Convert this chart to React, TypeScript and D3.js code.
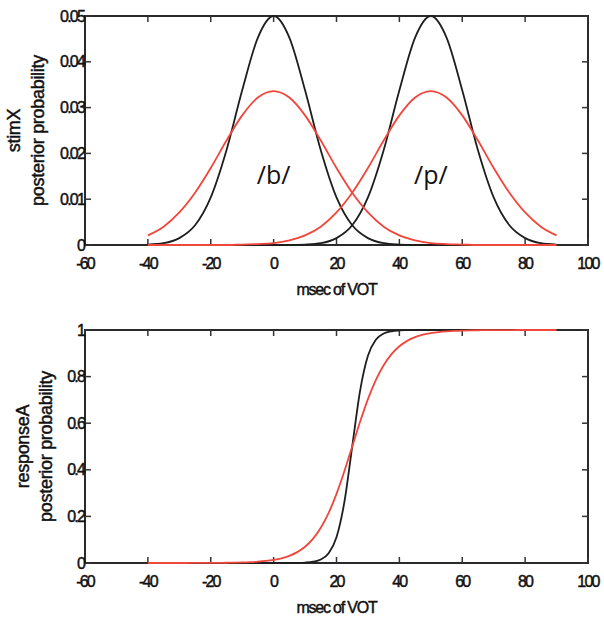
import React from "react";
import * as d3 from "d3";

// ---- data ----
const xTicks = [-60, -40, -20, 0, 20, 40, 60, 80, 100];
const topYTicks = [0, 0.01, 0.02, 0.03, 0.04, 0.05];
const topYLabels = ["0", "0.01", "0.02", "0.03", "0.04", "0.05"];
const botYTicks = [0, 0.2, 0.4, 0.6, 0.8, 1];
const botYLabels = ["0", "0.2", "0.4", "0.6", "0.8", "1"];

// top panel: msec of VOT, step 5
const vot5 = [-40, -35, -30, -25, -20, -15, -10, -5, 0, 5, 10, 15, 20, 25, 30, 35, 40, 45, 50, 55, 60, 65, 70, 75, 80, 85, 90];
const blackB = [0.0001, 0.0004, 0.0015, 0.0043, 0.0104, 0.0207, 0.0338, 0.0453, 0.05, 0.0453, 0.0338, 0.0207, 0.0104, 0.0043, 0.0015, 0.0004, 0.0001, 0, 0, 0, 0, 0, 0, 0, 0, 0, 0];
const blackP = [0, 0, 0, 0, 0, 0, 0, 0, 0, 0, 0.0001, 0.0004, 0.0015, 0.0043, 0.0104, 0.0207, 0.0338, 0.0453, 0.05, 0.0453, 0.0338, 0.0207, 0.0104, 0.0043, 0.0015, 0.0004, 0.0001];
const redB = [0.0021, 0.004, 0.0071, 0.0114, 0.0168, 0.0228, 0.0283, 0.0322, 0.0336, 0.0322, 0.0283, 0.0228, 0.0168, 0.0114, 0.0071, 0.004, 0.0021, 0.001, 0.0004, 0.0002, 0.0001, 0, 0, 0, 0, 0, 0];
const redP = [0, 0, 0, 0, 0, 0, 0.0001, 0.0002, 0.0004, 0.001, 0.0021, 0.004, 0.0071, 0.0114, 0.0168, 0.0228, 0.0283, 0.0322, 0.0336, 0.0322, 0.0283, 0.0228, 0.0168, 0.0114, 0.0071, 0.004, 0.0021];

// bottom panel: msec of VOT, step 2.5
const vot25 = [-40, -37.5, -35, -32.5, -30, -27.5, -25, -22.5, -20, -17.5, -15, -12.5, -10, -7.5, -5, -2.5, 0, 2.5, 5, 7.5, 10, 12.5, 15, 17.5, 20, 22.5, 25, 27.5, 30, 32.5, 35, 37.5, 40, 42.5, 45, 47.5, 50, 52.5, 55, 57.5, 60, 62.5, 65, 67.5, 70, 72.5, 75, 77.5, 80, 82.5, 85, 87.5, 90];
const blackResp = [0, 0, 0, 0, 0, 0, 0, 0, 0, 0, 0, 0, 0, 0, 0, 0, 0, 0, 0.0002, 0.0007, 0.0019, 0.0054, 0.0153, 0.042, 0.1107, 0.2609, 0.5, 0.7391, 0.8893, 0.958, 0.9847, 0.9946, 0.9981, 0.9993, 1, 1, 1, 1, 1, 1, 1, 1, 1, 1, 1, 1, 1, 1, 1, 1, 1, 1, 1];
const redResp = [0, 0, 0, 0.0001, 0.0001, 0.0001, 0.0002, 0.0003, 0.0004, 0.0007, 0.001, 0.0016, 0.0024, 0.0037, 0.0057, 0.0087, 0.0133, 0.0202, 0.0308, 0.0467, 0.07, 0.1038, 0.1513, 0.2153, 0.2969, 0.3939, 0.5, 0.6061, 0.7031, 0.7847, 0.8487, 0.8962, 0.93, 0.9533, 0.9692, 0.9798, 0.9867, 0.9913, 0.9943, 0.9963, 0.9976, 0.9984, 0.999, 0.9993, 0.9996, 0.9997, 0.9998, 0.9999, 0.9999, 1, 1, 1, 1];

const phonemes = [
  { label: "/b/", x: 0, y: 0.0135 },
  { label: "/p/", x: 50, y: 0.0135 },
];

const BLACK = "#1e1e1e";
const RED = "#f0463c";
const tickFont = { fontFamily: "Liberation Sans, Arial, sans-serif", fontSize: 16, letterSpacing: -1.8 };
const titleFont = { fontFamily: "Liberation Sans, Arial, sans-serif", fontSize: 18, letterSpacing: -0.3 };

const left = 85, right = 588;

type PanelProps = {
  top: number;
  bottom: number;
  yMax: number;
  yTicks: number[];
  yLabels: string[];
  xs: number[];
  series: { values: number[]; color: string }[];
  titles: string[];
  titleX: number[];
  children?: (x: d3.ScaleLinear<number, number>, y: d3.ScaleLinear<number, number>) => React.ReactNode;
};

const Panel = ({ top, bottom, yMax, yTicks, yLabels, xs, series, titles, titleX, children }: PanelProps) => {
  const x = d3.scaleLinear().domain([-60, 100]).range([left, right]);
  const y = d3.scaleLinear().domain([0, yMax]).range([bottom, top]);
  const tl = 6;
  const midY = (top + bottom) / 2;
  const ink = { fill: "#111", stroke: "#111", strokeWidth: 0.45 };

  return (
    <g>
      <rect x={left} y={top} width={right - left} height={bottom - top} fill="none" stroke="#2a2a2a" strokeWidth={2} />

      {xTicks.map((t) => (
        <g key={t}>
          <line x1={x(t)} x2={x(t)} y1={bottom} y2={bottom - tl} stroke="#333" strokeWidth={1.5} />
          <line x1={x(t)} x2={x(t)} y1={top} y2={top + tl} stroke="#333" strokeWidth={1.5} />
          <text x={x(t)} y={bottom + 24} textAnchor="middle" {...ink} style={tickFont}>
            {t}
          </text>
        </g>
      ))}

      {yTicks.map((t, i) => (
        <g key={t}>
          <line x1={left} x2={left + tl} y1={y(t)} y2={y(t)} stroke="#333" strokeWidth={1.5} />
          <line x1={right} x2={right - tl} y1={y(t)} y2={y(t)} stroke="#333" strokeWidth={1.5} />
          <text x={left - 1} y={y(t) + 5.5} textAnchor="end" {...ink} style={tickFont}>
            {yLabels[i]}
          </text>
        </g>
      ))}

      {series.map((s, i) => {
        const line = d3
          .line<number>()
          .x((_, j) => x(xs[j]))
          .y((d) => y(d))
          .curve(d3.curveMonotoneX);
        return <path key={i} d={line(s.values) || ""} fill="none" stroke={s.color} strokeWidth={1.8} />;
      })}

      <text x={(left + right) / 2} y={bottom + 50} textAnchor="middle" {...ink} style={{ ...tickFont, letterSpacing: -1.2 }}>
        msec of VOT
      </text>

      {titles.map((t, i) => (
        <text
          key={t}
          transform={`translate(${titleX[i]},${midY}) rotate(-90)`}
          textAnchor="middle"
          {...ink}
          style={titleFont}
        >
          {t}
        </text>
      ))}

      {children && children(x, y)}
    </g>
  );
};

export default function App() {
  return (
    <svg width={604} height={619} style={{ position: "absolute", left: 0, top: 0, background: "#fff" }}>
      <Panel
        top={16}
        bottom={245}
        yMax={0.05}
        yTicks={topYTicks}
        yLabels={topYLabels}
        xs={vot5}
        series={[
          { values: blackB, color: BLACK },
          { values: blackP, color: BLACK },
          { values: redB, color: RED },
          { values: redP, color: RED },
        ]}
        titles={["stimX", "posterior probability"]}
        titleX={[20, 44]}
      >
        {(x, y) =>
          phonemes.map((p) => (
            <text
              key={p.label}
              x={x(p.x)}
              y={y(p.y) + 1}
              textAnchor="middle"
              fill="#111"
              style={{ fontFamily: "Open Sans, DejaVu Sans, sans-serif", fontSize: 25 }}
            >
              {p.label}
            </text>
          ))
        }
      </Panel>
      <Panel
        top={330}
        bottom={563}
        yMax={1}
        yTicks={botYTicks}
        yLabels={botYLabels}
        xs={vot25}
        series={[
          { values: blackResp, color: BLACK },
          { values: redResp, color: RED },
        ]}
        titles={["responseA", "posterior probability"]}
        titleX={[29, 52]}
      />
    </svg>
  );
}
